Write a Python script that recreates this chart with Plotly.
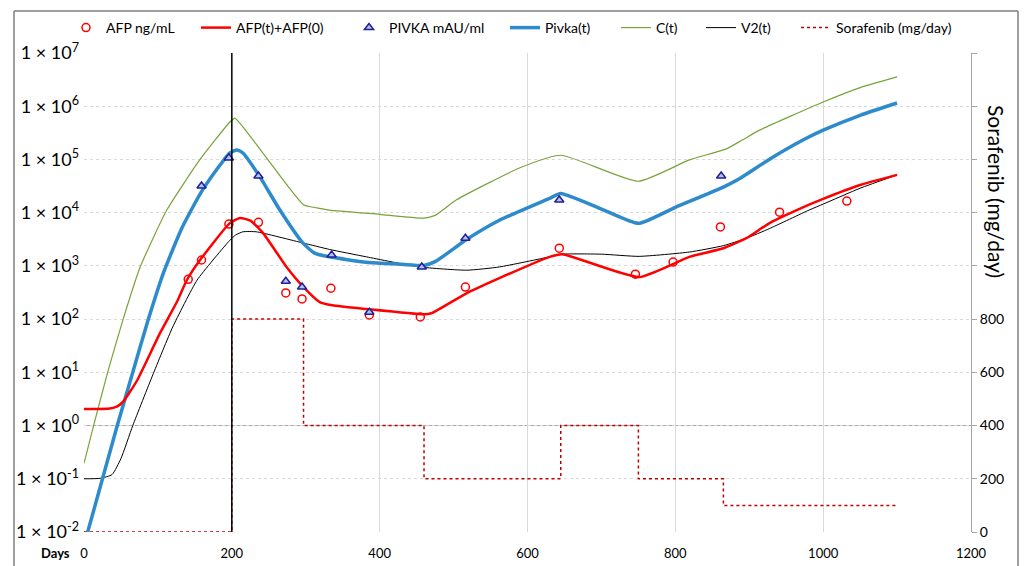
import plotly.graph_objects as go

# ---------------- data ----------------
afp_days = [141, 159, 196, 236, 273, 295, 334, 386, 455, 516, 643, 746, 797, 861, 941, 1032]
afp_vals = [560, 1290, 6100, 6600, 310, 240, 380, 120, 110, 400, 2150, 700, 1180, 5400, 10200, 16500]

pivka_days = [159, 196, 236, 273, 295, 335, 386, 457, 516, 643, 862]
pivka_vals = [31600, 107000, 49000, 515, 400, 1600, 135, 950, 3300, 17300, 49000]

afp_model_days = [0, 35, 45, 53, 62, 72, 103, 127, 139, 157, 197, 211, 225, 242, 274, 297, 319, 336,
                  382, 460, 470, 518, 562, 630, 647, 751, 819, 865, 896, 927, 981, 1000, 1050, 1100]
afp_model_vals = [2.04, 2.09, 2.29, 2.82, 4.27, 7.1, 55, 229, 537, 1290, 6300, 7940, 7080, 4170, 955,
                  400, 209, 182, 155, 123, 129, 309, 589, 1480, 1660, 617, 1480, 2140, 3310, 6310,
                  14100, 18200, 33100, 51300]

pivka_model_days = [5, 45, 66, 86, 107, 132, 157, 180, 197, 207, 215, 238, 265, 296, 312, 332, 382,
                    430, 460, 475, 518, 562, 630, 645, 700, 750, 800, 865, 886, 927, 972, 1000, 1050, 1100]
pivka_model_vals = [0.01, 1, 10, 89, 710, 5000, 22400, 66000, 132000, 151000, 132000, 47000, 11200,
                    2700, 1740, 1480, 1170, 1070, 1020, 1200, 3160, 7200, 18600, 22900, 11700, 6300,
                    12600, 30200, 42700, 100000, 229000, 355000, 676000, 1150000]

c_days = [0, 13, 32, 53, 76, 112, 157, 197, 204, 242, 297, 315, 332, 400, 460, 475, 504, 589, 645,
          750, 819, 869, 890, 914, 1000, 1050, 1100]
c_vals = [0.195, 1, 10, 100, 950, 11200, 100000, 500000, 600000, 132000, 14100, 12300, 11200, 9300,
          7900, 8900, 17400, 69000, 120000, 38900, 98000, 158000, 229000, 355000, 1200000, 2240000, 3550000]

v2_days = [0, 22, 38, 50, 66, 93, 120, 153, 197, 205, 215, 233, 296, 332, 382, 454, 518, 562,
           630, 647, 700, 751, 819, 865, 896, 927, 981, 1000, 1050, 1100]
v2_vals = [0.1, 0.102, 0.12, 0.24, 1, 8.9, 71, 540, 3000, 3800, 4370, 4370, 2700, 2040, 1480,
           955, 830, 955, 1480, 1660, 1660, 1510, 1820, 2400, 3300, 5000, 11200, 14500, 28800, 51300]

sora_days = [0, 200, 297, 460, 645, 750, 865, 1100]
sora_dose = [0, 800, 400, 200, 400, 200, 100, 100]

left_tickvals = [1e-2, 1e-1, 1e0, 1e1, 1e2, 1e3, 1e4, 1e5, 1e6, 1e7]
left_ticktext = ["1 × 10<sup>-2</sup>", "1 × 10<sup>-1</sup>", "1 × 10<sup>0</sup>", "1 × 10<sup>1</sup>",
                 "1 × 10<sup>2</sup>", "1 × 10<sup>3</sup>", "1 × 10<sup>4</sup>", "1 × 10<sup>5</sup>",
                 "1 × 10<sup>6</sup>", "1 × 10<sup>7</sup>"]
right_tickvals = [0, 200, 400, 600, 800, 1000, 1200, 1400, 1600, 1800]
right_ticktext = ["0", "200", "400", "600", "800", "", "", "", "", ""]
x_tickvals = [0, 200, 400, 600, 800, 1000, 1200]

# ---------------- layout constants ----------------
W, H = 1027, 566
L, R, T, B = 84, 56, 53, 34
PW = W - L - R
PH = H - T - B
FONT = "Lato"


def px2paper_x(px):
    return (px - L) / PW


def py2paper_y(py):
    return (H - B - py) / PH


fig = go.Figure()

legend_lefts = [66, 196, 349, 505, 616, 701, 796]
legend_names = ["legend", "legend2", "legend3", "legend4", "legend5", "legend6", "legend7"]

fig.add_trace(go.Scatter(x=sora_days, y=sora_dose, yaxis="y2", mode="lines", line_shape="hv",
                         name="Sorafenib (mg/day)", line=dict(color="#C00000", width=1.5, dash="dot"),
                         legend="legend7"))
fig.add_trace(go.Scatter(x=c_days, y=c_vals, mode="lines", name="C(t)", line_shape="spline",
                         line=dict(color="#77A33A", width=1.2, smoothing=0.5), legend="legend5"))
fig.add_trace(go.Scatter(x=v2_days, y=v2_vals, mode="lines", name="V2(t)", line_shape="spline",
                         line=dict(color="#000000", width=1, smoothing=0.5), legend="legend6"))
fig.add_trace(go.Scatter(x=pivka_model_days, y=pivka_model_vals, mode="lines", name="Pivka(t)",
                         line_shape="spline",
                         line=dict(color="#2E8BCB", width=3.5, smoothing=0.5), legend="legend4"))
fig.add_trace(go.Scatter(x=afp_model_days, y=afp_model_vals, mode="lines", name="AFP(t)+AFP(0)",
                         line_shape="spline",
                         line=dict(color="#FF0000", width=2.5, smoothing=0.5), legend="legend2"))
fig.add_trace(go.Scatter(x=afp_days, y=afp_vals, mode="markers", name="AFP ng/mL",
                         marker=dict(symbol="circle-open", size=8, color="#FF0000", line=dict(width=1.5)),
                         legend="legend"))
fig.add_trace(go.Scatter(x=pivka_days, y=pivka_vals, mode="markers", name="PIVKA mAU/ml",
                         marker=dict(symbol="triangle-up", size=8, color="#B4C4EE",
                                     line=dict(width=1.5, color="#1F1F99")),
                         legend="legend3"))

layout_kwargs = {}
for nm, lx in zip(legend_names, legend_lefts):
    layout_kwargs[nm] = dict(x=px2paper_x(lx), xanchor="left", y=py2paper_y(28), yanchor="middle",
                             orientation="h", bgcolor="rgba(0,0,0,0)",
                             font=dict(family=FONT, size=14, color="#000000"))

frame_color = "#7F7F7F"
fx0, fx1 = px2paper_x(14), px2paper_x(1018)
fy0, fy1 = py2paper_y(566), py2paper_y(11)

fig.update_layout(
    width=W, height=H,
    margin=dict(l=L, r=R, t=T, b=B, autoexpand=False),
    paper_bgcolor="white", plot_bgcolor="white",
    showlegend=True,
    font=dict(family=FONT, color="#000000"),
    xaxis=dict(range=[0, 1200], tickvals=x_tickvals, showgrid=True, gridcolor="#D9D9D9", gridwidth=1,
               zeroline=False, showline=False, ticks="", ticklabelstandoff=12, automargin=False,
               tickfont=dict(family=FONT, size=13)),
    yaxis=dict(type="log", range=[-2, 7], tickvals=left_tickvals, ticktext=left_ticktext,
               showgrid=True, gridcolor="#D9D9D9", griddash="dot", gridwidth=1, automargin=False,
               zeroline=False, showline=False, ticks="", ticklabelstandoff=4,
               tickfont=dict(family=FONT, size=18)),
    yaxis2=dict(overlaying="y", side="right", range=[0, 1800], tickvals=right_tickvals,
                ticktext=right_ticktext, showgrid=False, zeroline=False, showline=True,
                linecolor="#A6A6A6", ticks="outside", ticklen=5, tickcolor="#A6A6A6", automargin=False,
                tickfont=dict(family=FONT, size=14)),
    shapes=[
        dict(type="line", xref="x", yref="y", x0=0, x1=1200, y0=1, y1=1,
             line=dict(color="#A6A6A6", width=1), layer="below"),
        dict(type="line", xref="x", yref="paper", x0=200, x1=200, y0=0, y1=1,
             line=dict(color="#000000", width=1.5)),
        dict(type="line", xref="paper", yref="paper", x0=fx0, x1=fx1, y0=fy1, y1=fy1,
             line=dict(color=frame_color, width=1.5)),
        dict(type="line", xref="paper", yref="paper", x0=fx0, x1=fx0, y0=fy0, y1=fy1,
             line=dict(color=frame_color, width=1.5)),
        dict(type="line", xref="paper", yref="paper", x0=fx1, x1=fx1, y0=fy0, y1=fy1,
             line=dict(color=frame_color, width=1.5)),
    ],
    annotations=[
        dict(text="<b>Days</b>", xref="paper", yref="paper", x=px2paper_x(55), y=py2paper_y(553),
             xanchor="center", yanchor="middle", showarrow=False, font=dict(family=FONT, size=13)),
        dict(text="Sorafenib (mg/day)", xref="paper", yref="paper", x=px2paper_x(997),
             y=py2paper_y(191), xanchor="center", yanchor="middle", showarrow=False, textangle=90,
             font=dict(family=FONT, size=21)),
    ],
    **layout_kwargs,
)

fig.write_html("out.html")
